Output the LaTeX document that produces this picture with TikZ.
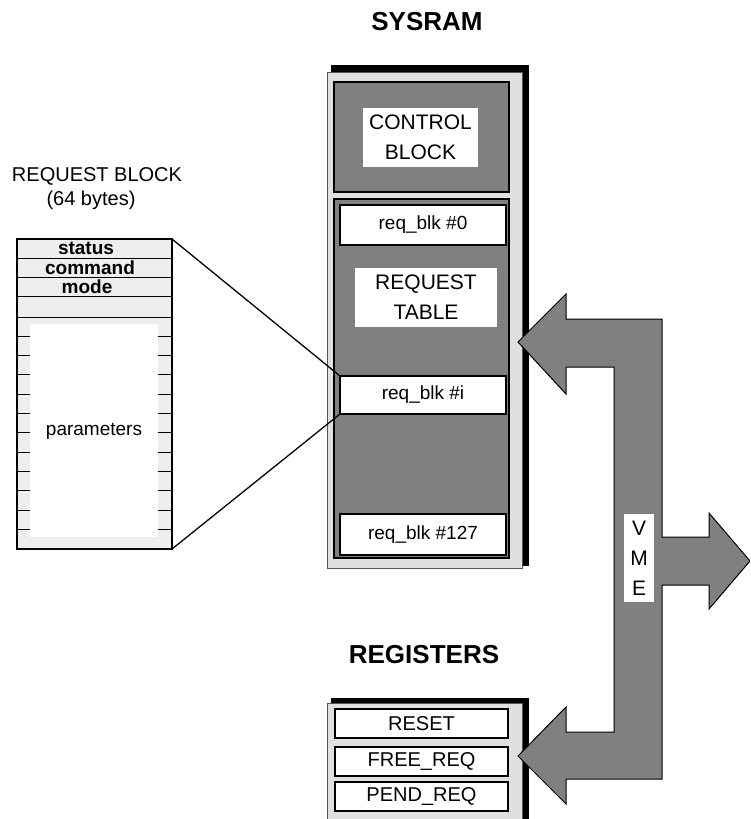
\documentclass[tikz,border=0pt]{standalone}
\usepackage{fontspec}
\setmainfont{Liberation Sans}
\usepackage{xcolor}
\usetikzlibrary{positioning,calc}
\definecolor{Shade}{HTML}{808080}
\definecolor{Frame}{HTML}{E0E0E0}
\definecolor{Row}{HTML}{EEEEEE}
\definecolor{Edge}{HTML}{555555}
\tikzset{
  title/.style={font=\fontsize{26}{28}\selectfont\bfseries,inner sep=0pt},
  caption/.style={font=\fontsize{20}{24}\selectfont,inner sep=0pt},
  frame/.style={draw=Edge,fill=Frame,line width=1pt,inner sep=0pt,outer sep=0pt,anchor=north west},
  well/.style={draw=black,fill=Shade,line width=1.3pt,inner sep=0pt,outer sep=0pt,anchor=north west,minimum width=175},
  tag/.style={fill=white,align=center,font=\fontsize{21}{30}\selectfont,inner sep=0pt},
  slot/.style={draw=black,fill=white,line width=1.6pt,font=\fontsize{19}{22}\selectfont,minimum width=166,minimum height=40,inner sep=0pt,outer sep=0pt},
  reg/.style={draw=black,fill=white,line width=1.3pt,font=\fontsize{20}{22}\selectfont,minimum width=173,minimum height=29,inner sep=0pt},
  field/.style={font=\fontsize{19}{20}\selectfont\bfseries,inner sep=0pt},
  zoomline/.style={draw=black,line width=1.3pt},
  bus/.style={draw=black,fill=Shade,line width=1pt,line join=miter}
}

\begin{document}
\begin{tikzpicture}[x=1pt,y=-1pt]
  \useasboundingbox (0,0) rectangle (750,819);
  \clip (0,0) rectangle (750,819);

  % SYSRAM
  \node[title] (sysramtitle) at (427,22) {SYSRAM};
  \fill[black] (331,65) rectangle (529,566);
  \node[frame,minimum width=195,minimum height=496] (ram) at (327,72) {};
  \node[well,minimum height=110] (ctl) at (334,82) {};
  \node[tag,minimum width=115,minimum height=59] (ctltag) at (420.5,137.5) {CONTROL\\BLOCK};
  \node[well,minimum height=359] (table) at (334,199) {};
  \node[slot] (blk0) at (423,225) {req\_blk \#0};
  \node[tag,minimum width=142,minimum height=59] (tabtag) at (426,297.5) {REQUEST\\TABLE};
  \node[slot,minimum height=38] (blki) at (423,395) {req\_blk \#i};
  \node[slot,minimum height=41] (blkn) at (423,534.5) {req\_blk \#127};

  % request block
  \node[caption] (rbtitle) at (97,176) {REQUEST BLOCK};
  \node[caption] (rbsize) at (91,200) {(64 bytes)};
  \node[draw=black,fill=Row,line width=1.3pt,inner sep=0pt,outer sep=0pt,anchor=north west,
        minimum width=155,minimum height=310] (reqblk) at (17,239) {};
  \foreach \y in {258,277,296,317}
    \draw[line width=1pt] (17,\y) -- (172,\y);
  \fill[white] (30,324) rectangle (158,537);
  \foreach \k [evaluate=\k as \y using 317+19.33*\k] in {1,...,11} {
    \draw[line width=1pt] (17,\y) -- (30,\y);
    \draw[line width=1pt] (158,\y) -- (172,\y);
  }
  \node[field] (status) at (86,248.5) {status};
  \node[field] (command) at (90,267.5) {command};
  \node[field] (mode) at (87,286.5) {mode};
  \node[caption,font=\fontsize{19}{22}\selectfont] (params) at (94,431) {parameters};
  \draw[zoomline] (reqblk.north east) -- (blki.north west);
  \draw[zoomline] (reqblk.south east) -- (blki.south west);

  % registers
  \node[title] (regtitle) at (424,655) {REGISTERS};
  \fill[black] (331,698) rectangle (529,830);
  \node[frame,minimum width=195,minimum height=130] (regs) at (327,703) {};
  \node[reg] (reset) at (421.5,723.5) {RESET};
  \node[reg] (freereq) at (421.5,761.5) {FREE\_REQ};
  \node[reg] (pendreq) at (421.5,796.5) {PEND\_REQ};

  % VME bus
  \draw[bus] (518,342) -- (566,294) -- (566,319) -- (662,319) -- (662,537) -- (709,537)
    -- (709,513) -- (750,561) -- (709,609) -- (709,585) -- (662,585) -- (662,779)
    -- (566,779) -- (566,804) -- (518,756) -- (566,707) -- (566,732) -- (614,732)
    -- (614,367) -- (566,367) -- (566,394) -- cycle;
  \node[tag,minimum width=30,minimum height=88] (vme) at (639,558) {V\\M\\E};
\end{tikzpicture}
\end{document}
